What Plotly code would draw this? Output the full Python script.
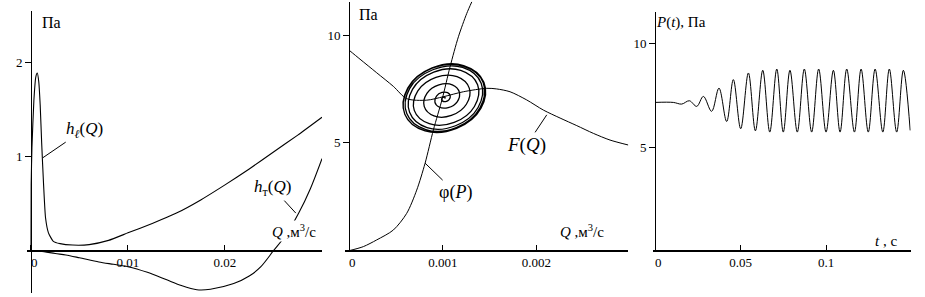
import plotly.graph_objects as go

# ---------------- data ----------------
# left panel: h_l(Q) and h_T(Q), Pa vs Q (m^3/s)
hl_q = [0, 0.00002, 0.0001, 0.0003, 0.0005, 0.00065, 0.0008, 0.00095, 0.0011, 0.0013, 0.0015,
        0.0018, 0.0023, 0.003, 0.0043, 0.006, 0.008, 0.01, 0.0125, 0.015, 0.0175, 0.02,
        0.0225, 0.025, 0.0275, 0.03]
hl_h = [0, 0.7, 1.1, 1.6, 1.85, 1.89, 1.8, 1.55, 1.15, 0.7, 0.35,
        0.19, 0.10, 0.075, 0.06, 0.065, 0.11, 0.19, 0.29, 0.40, 0.54, 0.70,
        0.87, 1.05, 1.23, 1.42]
ht_q = [0, 0.001, 0.0025, 0.0036, 0.005, 0.007, 0.0085, 0.01, 0.012, 0.014, 0.0155, 0.0171,
        0.0185, 0.0209, 0.0225, 0.0237, 0.025, 0.0263, 0.0276, 0.0288, 0.030]
ht_h = [0, -0.005, -0.03, -0.045, -0.075, -0.12, -0.145, -0.17, -0.23, -0.31, -0.37, -0.415,
        -0.41, -0.35, -0.27, -0.17, 0.0, 0.17, 0.40, 0.66, 0.98]

# middle panel: F(Q), phi(P) and phase trajectory (spiral onto the limit cycle)
F_q = [0, 0.000117, 0.000295, 0.000473, 0.000615, 0.000829, 0.001007, 0.00122, 0.00147,
       0.001576, 0.001718, 0.001896, 0.002074, 0.002252, 0.00243, 0.002607, 0.002785, 0.00298]
F_p = [9.30, 8.88, 8.25, 7.62, 7.05, 6.98, 7.14, 7.37, 7.53,
       7.50, 7.37, 6.99, 6.52, 6.15, 5.80, 5.44, 5.13, 4.90]
phi_q = [0, 0.000153, 0.000295, 0.000473, 0.000615, 0.000722, 0.000811, 0.0009, 0.000995,
         0.001078, 0.001167, 0.001256, 0.00131]
phi_p = [0, 0.19, 0.50, 0.96, 1.73, 2.81, 4.05, 5.60, 7.05,
         8.53, 9.92, 11.0, 11.54]
cyc_q = [0.001017,
         0.001025, 0.001023, 0.001012, 0.000996, 0.000988, 0.000999, 0.001031, 0.001068,
         0.001080, 0.001052, 0.000992, 0.000933, 0.000916, 0.000961, 0.001058, 0.001154,
         0.001177, 0.001102, 0.000959, 0.000831, 0.000802, 0.000906, 0.001092, 0.001252,
         0.001283, 0.001153, 0.000927, 0.000734, 0.000696, 0.000856, 0.001122, 0.001338,
         0.001372, 0.001192, 0.000904, 0.000677, 0.000646, 0.000832, 0.001136, 0.001377,
         0.001410, 0.001211, 0.000894, 0.000646, 0.000616, 0.000819, 0.001144, 0.001396,
         0.001431, 0.001219, 0.000887, 0.000630, 0.000595, 0.000811, 0.001148, 0.001408,
         0.001439, 0.001223, 0.000886, 0.000626, 0.000595, 0.000811, 0.001148, 0.001408,
         0.001439]
cyc_p = [7.07,
         7.085, 7.115, 7.126, 7.096, 7.018, 6.934, 6.916, 7.009,
         7.181, 7.328, 7.337, 7.171, 6.892, 6.661, 6.635, 6.906,
         7.352, 7.692, 7.687, 7.292, 6.692, 6.251, 6.270, 6.789,
         7.537, 8.071, 8.038, 7.409, 6.506, 5.888, 5.948, 6.686,
         7.693, 8.359, 8.277, 7.477, 6.417, 5.706, 5.793, 6.639,
         7.760, 8.495, 8.389, 7.515, 6.365, 5.615, 5.709, 6.616,
         7.797, 8.556, 8.459, 7.533, 6.328, 5.554, 5.667, 6.602,
         7.812, 8.586, 8.473, 7.538, 6.328, 5.554, 5.667, 6.602,
         7.812]

# right panel: P(t)
t_vals = [0, 0.0107, 0.0156, 0.0201, 0.0244, 0.0283, 0.0331, 0.0374, 0.0419, 0.0458, 0.0501,
          0.0546, 0.0587, 0.0630, 0.0671, 0.0712, 0.0750, 0.0789, 0.0832, 0.0873, 0.0916,
          0.0957, 0.1000, 0.1043, 0.1082, 0.1121, 0.1166, 0.1205, 0.1247, 0.1287, 0.1332,
          0.1370, 0.1413, 0.1452, 0.1492]
p_vals = [7.15, 7.15, 7.07, 7.23, 6.96, 7.44, 6.72, 7.84, 6.23, 8.25, 5.88,
          8.57, 5.78, 8.70, 5.72, 8.76, 5.72, 8.70, 5.72, 8.76, 5.72,
          8.76, 5.72, 8.70, 5.72, 8.76, 5.72, 8.76, 5.72, 8.76, 5.72,
          8.76, 5.72, 8.70, 5.80]

# tick labels
x1_ticks = [0, 0.01, 0.02]
x1_text = ["\u00a0\u00a00", "0.01", "0.02"]
y1_ticks = [1, 2]
x2_ticks = [0, 0.001, 0.002]
x2_text = ["\u00a0\u00a00", "0.001", "0.002"]
y2_ticks = [5, 10]
x3_ticks = [0, 0.05, 0.1]
x3_text = ["\u00a0\u00a00", "0.05", "0.1"]
y3_ticks = [5, 10]

# ---------------- figure ----------------
W, H = 925, 297
SERIF = "Liberation Serif"


def px_x(p):
    return p / W


def px_y(p):
    return 1 - p / H


fig = go.Figure()
fig.add_trace(go.Scatter(x=hl_q, y=hl_h, mode="lines", line=dict(color="black", width=1.1, shape="spline", smoothing=0.5),
                         xaxis="x", yaxis="y", hoverinfo="skip"))
fig.add_trace(go.Scatter(x=ht_q, y=ht_h, mode="lines", line=dict(color="black", width=1.1, shape="spline", smoothing=0.8),
                         xaxis="x", yaxis="y", hoverinfo="skip"))
fig.add_trace(go.Scatter(x=F_q, y=F_p, mode="lines", line=dict(color="black", width=1, shape="spline", smoothing=0.8),
                         xaxis="x2", yaxis="y2", hoverinfo="skip"))
fig.add_trace(go.Scatter(x=phi_q, y=phi_p, mode="lines", line=dict(color="black", width=1, shape="spline", smoothing=0.8),
                         xaxis="x2", yaxis="y2", hoverinfo="skip"))
fig.add_trace(go.Scatter(x=cyc_q, y=cyc_p, mode="lines", line=dict(color="black", width=1.3, shape="spline", smoothing=1.2),
                         xaxis="x2", yaxis="y2", hoverinfo="skip"))
fig.add_trace(go.Scatter(x=t_vals, y=p_vals, mode="lines", line=dict(color="black", width=1, shape="spline", smoothing=1),
                         xaxis="x3", yaxis="y3", hoverinfo="skip"))


def free_pos(d0, d1, r0, r1):
    return d0 + (0 - r0) / (r1 - r0) * (d1 - d0)


panels = [
    # (x domain px, x range, y domain px (top,bottom), y range, xticks, xtext, yticks)
    ((27, 322), (-0.00041, 0.03), (11, 293), (-0.45, 2.55), x1_ticks, x1_text, y1_ticks),
    ((345.3, 628.3), (-0.00004, 0.00298), (1.6, 250.7), (0, 11.55), x2_ticks, x2_text, y2_ticks),
    ((653, 910.7), (-0.00117, 0.1495), (12, 250.7), (0, 11.51), x3_ticks, x3_text, y3_ticks),
]

axes = {}
for i, (xd, xr, yd, yr, xt, xtt, yt) in enumerate(panels):
    sfx = "" if i == 0 else str(i + 1)
    xdom = [px_x(xd[0]), px_x(xd[1])]
    ydom = [px_y(yd[1]), px_y(yd[0])]
    xpos = free_pos(ydom[0], ydom[1], yr[0], yr[1])
    ypos = free_pos(xdom[0], xdom[1], xr[0], xr[1])
    axes["xaxis" + sfx] = dict(domain=xdom, range=list(xr), anchor="free", position=xpos,
                               showline=True, linecolor="black", linewidth=2,
                               ticks="inside", ticklen=5, tickwidth=1, tickcolor="black",
                               tickvals=xt, ticktext=xtt,
                               tickfont=dict(family=SERIF, size=13, color="black"),
                               showgrid=False, zeroline=False, automargin=False)
    axes["yaxis" + sfx] = dict(domain=ydom, range=list(yr), anchor="free", position=ypos,
                               showline=True, linecolor="black", linewidth=1,
                               ticks="outside", ticklen=6, tickwidth=1, tickcolor="black",
                               tickvals=yt,
                               tickfont=dict(family=SERIF, size=13, color="black"),
                               showgrid=False, zeroline=False, automargin=False)

fig.update_layout(width=W, height=H, margin=dict(l=0, r=0, t=0, b=0, pad=0),
                  font=dict(family=SERIF, size=14, color="black"),
                  paper_bgcolor="white", plot_bgcolor="white", showlegend=False, **axes)


def label(text, x, y, size=16, bg=None):
    d = dict(text=text, xref="paper", yref="paper", x=px_x(x), y=px_y(y),
             xanchor="center", yanchor="middle", showarrow=False,
             font=dict(family=SERIF, size=size, color="black"))
    if bg:
        d["bgcolor"] = bg
    fig.add_annotation(**d)


def leader(text, xref, yref, x, y, ax, ay, size=17):
    fig.add_annotation(text=text, xref=xref, yref=yref, x=x, y=y, ax=ax, ay=ay,
                       showarrow=True, arrowhead=0, arrowwidth=1, arrowcolor="black",
                       standoff=0, font=dict(family=SERIF, size=size, color="black"))


label("Па", 51, 22, size=16)
label("<i>Q</i> ,м<sup>3</sup>/с", 294, 231, size=15, bg="white")
label("Па", 368, 15, size=16)
label("<i>Q</i> ,м<sup>3</sup>/с", 582, 231, size=15)
label("<i>P</i>(<i>t</i>), Па", 681, 23, size=15)
label("<i>t</i> , с", 886, 241, size=15)

leader("<i>h</i><sub><i>ℓ</i></sub>(<i>Q</i>)", "x", "y", 0.00124, 0.99, 41, -28)
leader("<i>h</i><sub>т</sub>(<i>Q</i>)", "x", "y", 0.0273, 0.40, -23, -25)
leader("<i>F</i>(<i>Q</i>)", "x2", "y2", 0.00211, 6.3, -20, 30, size=19)
leader("φ(<i>P</i>)", "x2", "y2", 0.000811, 4.06, 30, 29, size=18)

fig.write_html("out.html",
               config={"displayModeBar": False, "staticPlot": True},
               post_script="document.body.style.margin='0px';document.body.style.padding='0px';")
